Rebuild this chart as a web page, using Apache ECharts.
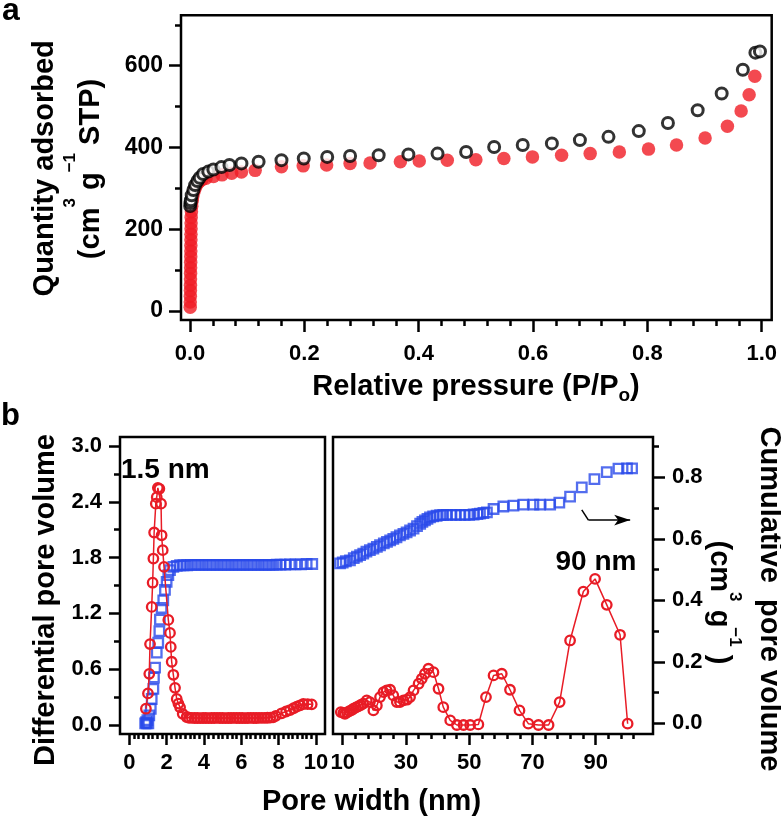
<!DOCTYPE html>
<html>
<head>
<meta charset="utf-8">
<script src="https://cdn.jsdelivr.net/npm/echarts@6/dist/echarts.min.js"></script>
<style>html,body{margin:0;padding:0;background:#fff}#c{width:781px;height:820px}</style>
</head>
<body>
<div id="c"></div>
<script>
const FONT = "'Liberation Sans', Arial, Helvetica, sans-serif";

// ---------- Panel a: N2 isotherm ----------
const adsP = [0.0004,0.0005,0.0006,0.0007,0.0008,0.0009,0.0010,0.0011,0.0012,0.0013,0.0014,0.0015,0.0016,0.0017,0.0018,0.0019,0.0020,0.0025,0.003,0.004,0.005,0.007,0.009,0.012,0.016,0.021,0.028,0.041,0.056,0.073,0.090,0.114,0.160,0.198,0.239,0.280,0.315,0.368,0.401,0.450,0.500,0.549,0.599,0.650,0.700,0.751,0.802,0.851,0.901,0.940,0.964,0.978,0.988];
const adsQ = [9,22,36,50,63,78,92,106,119,133,147,160,174,188,201,215,229,243,256,270,281,292,301,309,316,321,325,329,333,337,340,344,353,355,357,361,362,365,367,369,370,373,377,381,385,389,396,406,423,452,489,529,574];
const desP = [0.0003,0.0008,0.0015,0.003,0.006,0.009,0.013,0.017,0.023,0.032,0.041,0.055,0.069,0.090,0.120,0.160,0.199,0.240,0.280,0.330,0.382,0.433,0.483,0.532,0.582,0.633,0.682,0.732,0.785,0.836,0.888,0.930,0.967,0.989,0.997];
const desQ = [257,264,271,283,296,308,318,326,335,341,346,352,357,361,365,369,373,377,379,381,383,385,389,401,406,410,418,426,440,460,491,532,590,632,635];

// ---------- Panel b left (0-10 nm) ----------
const diffLW = [0.89,1.00,1.07,1.11,1.20,1.25,1.29,1.33,1.42,1.47,1.53,1.61,1.70,1.73,1.79,1.86,2.09,2.18,2.22,2.27,2.36,2.45,2.54,2.63,2.72,2.86,3.07,3.20,3.35,3.50,3.65,3.80,3.95,4.10,4.25,4.40,4.55,4.70,4.85,5.00,5.15,5.30,5.45,5.60,5.75,5.90,6.05,6.20,6.35,6.50,6.65,6.80,6.95,7.10,7.25,7.40,7.55,7.70,7.85,8.16,8.40,8.61,8.80,8.97,9.15,9.32,9.55,9.77];
const diffLV = [0.175,0.34,0.55,0.87,1.27,1.53,1.79,2.07,2.38,2.45,2.55,2.54,2.38,2.04,1.88,1.70,1.13,0.99,0.84,0.68,0.54,0.40,0.28,0.23,0.19,0.12,0.086,0.078,0.076,0.075,0.075,0.074,0.075,0.075,0.074,0.075,0.075,0.076,0.075,0.075,0.074,0.075,0.075,0.076,0.075,0.075,0.075,0.074,0.075,0.076,0.075,0.075,0.076,0.077,0.077,0.078,0.080,0.083,0.098,0.126,0.145,0.161,0.180,0.197,0.212,0.226,0.224,0.222];
const cumLW = [0.85,0.90,0.93,0.97,1.02,1.07,1.15,1.20,1.29,1.32,1.38,1.47,1.55,1.61,1.64,1.73,1.82,1.91,2.00,2.09,2.18,2.36,2.54,2.72,2.90,3.10,3.30,3.50,3.70,3.90,4.10,4.30,4.50,4.70,4.90,5.10,5.30,5.50,5.70,5.90,6.10,6.30,6.50,6.70,6.90,7.10,7.30,7.50,7.70,7.90,8.10,8.35,8.60,8.90,9.20,9.50,9.80];
const cumLV = [0.0,0.004,0.0,0.01,0.0,0.026,0.047,0.079,0.112,0.149,0.181,0.23,0.262,0.30,0.337,0.375,0.40,0.434,0.46,0.482,0.498,0.509,0.512,0.514,0.514,0.514,0.515,0.515,0.515,0.515,0.515,0.515,0.515,0.515,0.515,0.515,0.515,0.515,0.515,0.515,0.515,0.515,0.515,0.515,0.515,0.515,0.515,0.515,0.515,0.516,0.516,0.516,0.517,0.517,0.517,0.518,0.518];

// ---------- Panel b right (10-100 nm) ----------
const diffRW = [9.4,10.2,10.7,11.4,12.1,12.8,13.4,14.2,14.9,15.7,16.5,17.6,18.6,19.7,20.8,21.8,22.9,23.9,25.0,26.0,27.1,28.1,29.2,30.3,31.3,32.4,34.0,35.0,36.0,37.1,38.7,40.3,41.8,44.0,46.1,48.2,50.3,52.9,55.3,57.7,60.3,62.9,65.9,68.7,71.9,75.1,78.6,81.9,86.1,89.8,93.5,97.7,100.1];
const diffRV = [0.139,0.130,0.121,0.135,0.149,0.160,0.175,0.190,0.200,0.215,0.229,0.264,0.246,0.157,0.210,0.300,0.354,0.372,0.379,0.318,0.246,0.246,0.264,0.272,0.300,0.372,0.444,0.497,0.551,0.605,0.568,0.390,0.192,0.049,0.0,0.0,0.0,0.006,0.300,0.533,0.551,0.379,0.157,0.014,0.0,0.0,0.246,0.909,1.435,1.571,1.292,0.970,0.014];
const cumRW = [9.15,10.0,11.0,12.3,13.5,14.5,15.5,16.5,17.5,18.6,19.7,20.8,21.8,23.0,24.0,25.0,26.0,27.0,28.1,29.2,30.2,31.3,32.4,33.5,34.5,35.2,36.0,36.8,37.6,38.6,39.7,40.8,41.8,43.0,44.4,45.8,47.2,48.6,50.0,51.4,52.6,53.4,54.5,55.6,57.7,60.8,64.0,67.1,70.3,72.4,75.6,78.5,81.9,85.6,89.6,93.5,97.2,99.9,101.5];
const cumRV = [0.520,0.523,0.527,0.530,0.537,0.542,0.547,0.552,0.558,0.563,0.568,0.574,0.579,0.585,0.590,0.595,0.600,0.605,0.611,0.616,0.621,0.627,0.633,0.641,0.649,0.655,0.660,0.665,0.670,0.673,0.675,0.677,0.678,0.678,0.678,0.678,0.678,0.678,0.678,0.679,0.680,0.682,0.684,0.686,0.697,0.705,0.708,0.711,0.711,0.711,0.711,0.718,0.737,0.767,0.794,0.817,0.828,0.829,0.829];
const arrowPath = [[85.6,0.694],[87.7,0.661],[100.9,0.661]];

// ---------- Tick values ----------
const aXTicks = [0,0.2,0.4,0.6,0.8,1.0];
const aXMinor = [0.04,0.08,0.12,0.16,0.24,0.28,0.32,0.36,0.44,0.48,0.52,0.56,0.64,0.68,0.72,0.76,0.84,0.88,0.92,0.96];
const aYTicks = [0,200,400,600];
const aYMinor = [100,300,500,700];
const bLXTicks = [0,2,4,6,8,10];
const bLXMinor = [0.25,0.5,0.75,1,1.25,1.5,1.75,2.25,2.5,2.75,3,3.25,3.5,3.75,4.25,4.5,4.75,5,5.25,5.5,5.75,6.25,6.5,6.75,7,7.25,7.5,7.75,8.25,8.5,8.75,9,9.25,9.5,9.75];
const bRXTicks = [10,30,50,70,90];
const bRXMinor = [14,18,22,26,34,38,42,46,54,58,62,66,74,78,82,86,94,98,102];
const bLYTicks = [0,0.6,1.2,1.8,2.4,3.0];
const bLYMinor = [0.3,0.9,1.5,2.1,2.7];
const bRYTicks = [0,0.2,0.4,0.6,0.8];
const bRYMinor = [0.1,0.3,0.5,0.7,0.9];

const zip = (xs, ys) => xs.map((x, i) => [x, ys[i]]);
const RED_A = '#f01c24', RED = '#e81c26', BLUE = '#2848ea';

const lbl = (vals, fmt, margin, size) => ({
  customValues: vals, formatter: fmt, margin: margin, fontSize: size || 22, fontWeight: 'bold',
  color: '#000', fontFamily: FONT
});
function axis(grid, pos, min, max, ticks, len, label, show) {
  return {
    type: 'value', gridIndex: grid, position: pos, min: min, max: max, show: show !== false,
    axisLine: { show: false, onZero: false }, splitLine: { show: false },
    axisTick: ticks ? { show: true, inside: false, customValues: ticks, length: len, lineStyle: { color: '#000', width: 2.5 } } : { show: false },
    axisLabel: label ? label : { show: false }
  };
}
const f1 = v => v.toFixed(1), f0 = v => String(Math.round(v));

const xAxes = [
  axis(0, 'bottom', -0.01574, 1.0175, aXTicks, 12, lbl(aXTicks, f1, 23)),
  axis(0, 'bottom', -0.01574, 1.0175, aXMinor, 6, null),
  axis(1, 'bottom', -0.498, 10.482, bLXTicks, 11, lbl(bLXTicks, f0, 18)),
  axis(1, 'bottom', -0.498, 10.482, bLXMinor, 5, null),
  axis(2, 'bottom', 6.93, 108.12, bRXTicks, 11, lbl(bRXTicks, f0, 18)),
  axis(2, 'bottom', 6.93, 108.12, bRXMinor, 5, null)
];
const yAxes = [
  axis(0, 'left', -22.0, 723.3, aYTicks, 12, lbl(aYTicks, f0, 18, 23)),
  axis(0, 'left', -22.0, 723.3, aYMinor, 6, null),
  axis(1, 'left', -0.0968, 3.097, bLYTicks, 11, lbl(bLYTicks, f1, 18)),
  axis(1, 'left', -0.0968, 3.097, bLYMinor, 6, null),
  axis(1, 'right', -0.0348, 0.9311, null, 0, null, false),
  axis(2, 'right', -0.0348, 0.9311, bRYTicks, 12, lbl(bRYTicks, f1, 19)),
  axis(2, 'right', -0.0348, 0.9311, bRYMinor, 6, null),
  axis(2, 'left', -0.0968, 3.097, null, 0, null, false)
];

const frame = { show: true, borderColor: '#000', borderWidth: 2.5, backgroundColor: 'rgba(0,0,0,0)', containLabel: false };
const ringRed = { color: 'rgba(0,0,0,0)', borderColor: RED, borderWidth: 2.3 };
const ringBlue = { color: 'rgba(0,0,0,0)', borderColor: BLUE, borderWidth: 2.3 };

function txt(text, x, y, opts) {
  opts = opts || {};
  return {
    type: 'text', x: x, y: y, rotation: opts.rot || 0, silent: true, z: 100,
    style: {
      text: text, fill: '#000', fontSize: opts.size || 29, fontWeight: 'bold', fontFamily: FONT,
      align: opts.align || 'center', verticalAlign: 'middle', rich: opts.rich
    }
  };
}
const supRich = (L) => ({
  m: { fontSize: 29, fontWeight: 'bold', fontFamily: FONT, fill: '#000', lineHeight: L, verticalAlign: 'bottom' },
  s: { fontSize: 17, fontWeight: 'bold', fontFamily: FONT, fill: '#000', verticalAlign: 'top' }
});
const subRich = {
  m: { fontSize: 29, fontWeight: 'bold', fontFamily: FONT, fill: '#000', verticalAlign: 'top' },
  o: { fontSize: 19, fontWeight: 'bold', fontFamily: FONT, fill: '#000', height: 12, lineHeight: 12, verticalAlign: 'bottom' }
};

const option = {
  animation: false,
  backgroundColor: '#fff',
  grid: [
    Object.assign({ left: 181, top: 15.3, width: 590.7, height: 304.7 }, frame),
    Object.assign({ left: 120, top: 437, width: 205, height: 297 }, frame),
    Object.assign({ left: 333, top: 437, width: 320, height: 297 }, frame)
  ],
  xAxis: xAxes,
  yAxis: yAxes,
  series: [
    { type: 'scatter', xAxisIndex: 0, yAxisIndex: 0, symbol: 'circle', symbolSize: 13.5,
      itemStyle: { color: RED_A }, data: zip(adsP, adsQ) },
    { type: 'scatter', xAxisIndex: 0, yAxisIndex: 0, symbol: 'circle', symbolSize: 11,
      itemStyle: { color: '#fff', borderColor: '#000', borderWidth: 3 }, data: zip(desP, desQ) },
    { type: 'line', xAxisIndex: 2, yAxisIndex: 2, symbol: 'circle', symbolSize: 9.5, showAllSymbol: true,
      itemStyle: ringRed, lineStyle: { color: RED, width: 1.5 }, data: zip(diffLW, diffLV) },
    { type: 'scatter', xAxisIndex: 2, yAxisIndex: 4, symbol: 'rect', symbolSize: 9.5,
      itemStyle: ringBlue, data: zip(cumLW, cumLV) },
    { type: 'line', xAxisIndex: 4, yAxisIndex: 7, symbol: 'circle', symbolSize: 9.5, showAllSymbol: true,
      itemStyle: ringRed, lineStyle: { color: RED, width: 1.5 }, data: zip(diffRW, diffRV) },
    { type: 'scatter', xAxisIndex: 4, yAxisIndex: 5, symbol: 'rect', symbolSize: 9.5,
      itemStyle: ringBlue, data: zip(cumRW, cumRV),
      markLine: {
        silent: true, animation: false, symbol: ['none', 'arrow'], symbolSize: [8, 16],
        label: { show: false }, emphasis: { disabled: true },
        lineStyle: { color: '#000', width: 1.5, type: 'solid' },
        data: [
          [{ coord: arrowPath[0], symbol: 'none' }, { coord: arrowPath[1], symbol: 'none' }],
          [{ coord: arrowPath[1], symbol: 'none' }, { coord: arrowPath[2], symbol: 'arrow', symbolSize: [8, 16] }]
        ]
      } }
  ],
  graphic: [
    txt('a', 2, 11, { size: 32, align: 'left' }),
    txt('b', 1, 416, { size: 31, align: 'left' }),
    txt('Quantity adsorbed', 45.4, 168.3, { rot: Math.PI / 2 }),
    txt('{m|(cm}{s|3}{m| g}{s|\u22121}{m| STP)}', 83.5, 169, { rot: Math.PI / 2, rich: supRich(44) }),
    txt('{m|Relative pressure (P/P}{o|o}{m|)}', 476, 387, { rich: subRich }),
    txt('Differential pore volume', 46, 600, { rot: Math.PI / 2 }),
    txt('Pore width (nm)', 371.5, 801.5),
    txt('Cumulative  pore volume', 769, 599, { rot: -Math.PI / 2 }),
    txt('{m|(cm}{s|3}{m| g}{s|\u22121}{m| )}', 724, 602.5, { rot: -Math.PI / 2, rich: supRich(39) }),
    txt('1.5 nm', 121, 470, { size: 28, align: 'left' }),
    txt('90 nm', 596, 562, { size: 28 })
  ]
};

const chart = echarts.init(document.getElementById('c'), null, { renderer: 'canvas' });
chart.setOption(option);
</script>
</body>
</html>
